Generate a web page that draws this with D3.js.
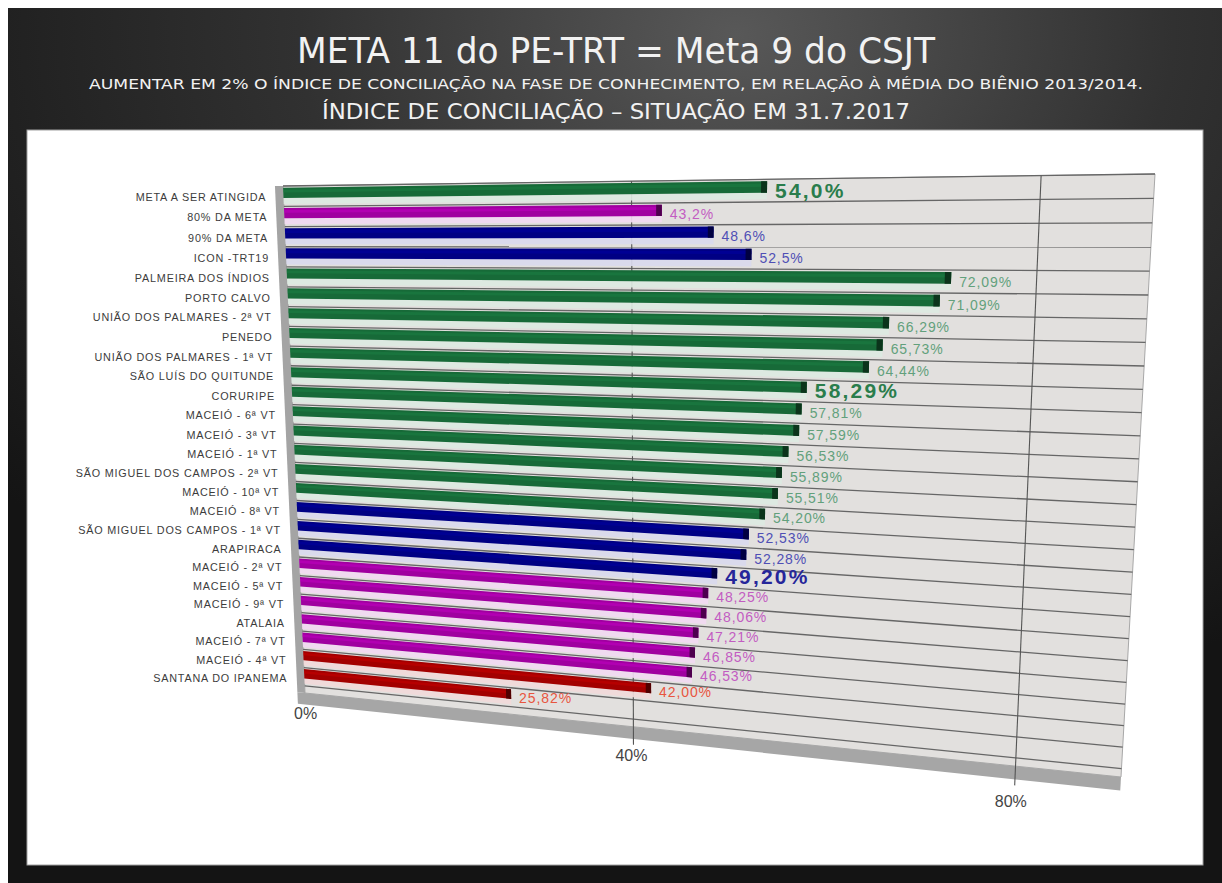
<!DOCTYPE html>
<html>
<head>
<meta charset="utf-8">
<script src="https://cdn.jsdelivr.net/npm/d3@7"></script>
<style>
body { margin: 0; background: #fff; }
svg { display: block; }
</style>
</head>
<body>
<svg id="chart" width="1222" height="883"></svg>
<script>
// dados
var categorias = ["META A SER ATINGIDA", "80% DA META", "90% DA META", "ICON -TRT19", "PALMEIRA DOS ÍNDIOS", "PORTO CALVO",
    "UNIÃO DOS PALMARES - 2ª VT", "PENEDO", "UNIÃO DOS PALMARES - 1ª VT", "SÃO LUÍS DO QUITUNDE", "CORURIPE",
    "MACEIÓ - 6ª VT", "MACEIÓ - 3ª VT", "MACEIÓ - 1ª VT", "SÃO MIGUEL DOS CAMPOS - 2ª VT", "MACEIÓ - 10ª VT",
    "MACEIÓ - 8ª VT", "SÃO MIGUEL DOS CAMPOS - 1ª VT", "ARAPIRACA", "MACEIÓ - 2ª VT", "MACEIÓ - 5ª VT",
    "MACEIÓ - 9ª VT", "ATALAIA", "MACEIÓ - 7ª VT", "MACEIÓ - 4ª VT", "SANTANA DO IPANEMA"];
var valores = [54.0, 43.2, 48.6, 52.5, 72.09, 71.09, 66.29, 65.73, 64.44, 58.29, 57.81, 57.59, 56.53,
    55.89, 55.51, 54.20, 52.53, 52.28, 49.20, 48.25, 48.06, 47.21, 46.85, 46.53, 42.00, 25.82];
var referencias = ["META A SER ATINGIDA", "80% DA META", "90% DA META", "ICON -TRT19"];
var destaques = ["META A SER ATINGIDA", "SÃO LUÍS DO QUITUNDE", "ARAPIRACA"];
var tickValores = [0, 40, 80];
var tickRotulos = ["0%", "40%", "80%"];
var titulo = "META 11 do PE-TRT = Meta 9 do CSJT";
var subtitulo = "AUMENTAR EM 2% O ÍNDICE DE CONCILIAÇÃO NA FASE DE CONHECIMENTO, EM RELAÇÃO À MÉDIA DO BIÊNIO 2013/2014.";
var situacao = "ÍNDICE DE CONCILIAÇÃO – SITUAÇÃO EM 31.7.2017";

// faixas de cor: abaixo de 80% da meta, 80%, 90%, meta
var limites = [valores[1], valores[2], valores[0]];
var coresBarras = ["#a30000", "#a000a0", "#000084", "#176a38"];
var coresRotulos = ["#e8553f", "#c25cc2", "#4f4fb5", "#62a07c"];
var coresDestaque = ["#c03020", "#9a1a9a", "#26269a", "#2a7d4c"];

var svg = d3.select("#chart");
var defs = svg.append("defs");

// fundo do slide
var rg = defs.append("radialGradient").attr("id", "fundo")
    .attr("cx", "60%").attr("cy", "3%").attr("r", "80%");
rg.append("stop").attr("offset", "0%").attr("stop-color", "#585858");
rg.append("stop").attr("offset", "45%").attr("stop-color", "#313131");
rg.append("stop").attr("offset", "100%").attr("stop-color", "#141414");
svg.append("rect").attr("x", 8).attr("y", 8).attr("width", 1214).attr("height", 875).attr("fill", "url(#fundo)");
svg.append("rect").attr("x", 27).attr("y", 130).attr("width", 1176).attr("height", 735)
    .attr("fill", "#fff").attr("stroke", "#a0a0a0");

// titulos
var fonteEstreita = "'Liberation Sans Narrow', 'DejaVu Sans Condensed', 'Liberation Sans', sans-serif";
[[titulo, 63, 35, 638], [subtitulo, 89, 13.5, 1054], [situacao, 119, 22, 588]].forEach(function (t) {
    svg.append("text").attr("x", 616).attr("y", t[1]).attr("text-anchor", "middle")
        .attr("font-family", fonteEstreita).attr("font-size", t[2]).attr("fill", "#f2f2f2")
        .attr("textLength", t[3]).attr("lengthAdjust", "spacingAndGlyphs").text(t[0]);
});

// projecao em perspectiva (quadrado unitario -> quadrilatero da parede)
function perspectiva(q) {
    var x0 = q[0][0], y0 = q[0][1], x1 = q[1][0], y1 = q[1][1];
    var x2 = q[2][0], y2 = q[2][1], x3 = q[3][0], y3 = q[3][1];
    var dx1 = x1 - x2, dx2 = x3 - x2, dx3 = x0 - x1 + x2 - x3;
    var dy1 = y1 - y2, dy2 = y3 - y2, dy3 = y0 - y1 + y2 - y3;
    var det = dx1 * dy2 - dx2 * dy1;
    var g = (dx3 * dy2 - dx2 * dy3) / det;
    var h = (dx1 * dy3 - dx3 * dy1) / det;
    var a = x1 - x0 + g * x1, b = x3 - x0 + h * x3, c = x0;
    var d = y1 - y0 + g * y1, e = y3 - y0 + h * y3, f = y0;
    return function (u, w) {
        var z = g * u + h * w + 1;
        return [(a * u + b * w + c) / z, (d * u + e * w + f) / z];
    };
}
var proj = perspectiva([[283, 186], [1155, 174], [1121, 777], [305, 693]]);

var x = d3.scaleLinear().domain([0, 90]).range([0, 1]);
var y = d3.scaleBand().domain(categorias).range([0, 0.985]);
var bw = y.bandwidth();
var cor = d3.scaleThreshold().domain(limites).range(coresBarras);
var corRotulo = d3.scaleThreshold().domain(limites).range(coresRotulos);
var corDestaque = d3.scaleThreshold().domain(limites).range(coresDestaque);

function P(v, w) { return proj(x(v), w); }
function quad(v0, v1, w0, w1) {
    return [P(v0, w0), P(v1, w0), P(v1, w1), P(v0, w1)].map(function (p) { return p.join(","); }).join(" ");
}

var pt = d3.formatLocale({ decimal: ",", thousands: ".", grouping: [3], currency: ["R$", ""] });
var f1 = pt.format(".1f"), f2 = pt.format(".2f");

var dados = categorias.map(function (c, i) { return { nome: c, valor: valores[i] }; });

var g = svg.append("g");

// parede, lateral e piso
g.append("polygon").attr("points", quad(0, 90, 0, 1)).attr("fill", "#e2e0de").attr("stroke", "#a8a8a8");
g.append("polygon").attr("points", quad(-1, 0, 0, 1)).attr("fill", "#a4a4a4");
g.append("polygon").attr("points", quad(-1, 90, 1, 1.024)).attr("fill", "#a6a6a6");

// linhas de grade das categorias
var linhas = d3.range(categorias.length + 1).map(function (k) { return k * bw; });
g.selectAll("line.grade").data(linhas).enter().append("line").attr("class", "grade")
    .attr("x1", function (w) { return P(0, w)[0]; }).attr("y1", function (w) { return P(0, w)[1]; })
    .attr("x2", function (w) { return P(90, w)[0]; }).attr("y2", function (w) { return P(90, w)[1]; })
    .attr("stroke", "#666").attr("stroke-width", 1.3);

// linhas verticais dos valores
g.selectAll("line.eixo").data(tickValores.slice(1)).enter().append("line").attr("class", "eixo")
    .attr("x1", function (t) { return P(t, 0)[0]; }).attr("y1", function (t) { return P(t, 0)[1]; })
    .attr("x2", function (t) { return P(t, 1.035)[0]; }).attr("y2", function (t) { return P(t, 1.035)[1]; })
    .attr("stroke", "#555").attr("stroke-width", 1.1);

// barras
var barra = g.selectAll("g.barra").data(dados).enter().append("g").attr("class", "barra");
barra.append("polygon")
    .attr("points", function (d) { return quad(0, d.valor, y(d.nome) + 0.58 * bw, y(d.nome) + 0.88 * bw); })
    .attr("fill", function (d) { return d3.interpolateRgb(cor(d.valor), "#fff")(0.85); })
    .attr("opacity", 0.92);
barra.append("polygon")
    .attr("points", function (d) { return quad(0, d.valor, y(d.nome) + 0.08 * bw, y(d.nome) + 0.59 * bw); })
    .attr("fill", function (d) { return cor(d.valor); });
barra.append("polygon")
    .attr("points", function (d) { return quad(0, d.valor, y(d.nome) + 0.18 * bw, y(d.nome) + 0.32 * bw); })
    .attr("fill", function (d) { return d3.color(cor(d.valor)).brighter(0.7); })
    .attr("opacity", 0.4);
barra.append("polygon")
    .attr("points", function (d) { return quad(d.valor - 0.6, d.valor, y(d.nome) + 0.08 * bw, y(d.nome) + 0.59 * bw); })
    .attr("fill", function (d) { return d3.color(cor(d.valor)).darker(2); });

// rotulos de valor
g.selectAll("text.valor").data(dados).enter().append("text").attr("class", "valor")
    .attr("x", function (d) { return P(d.valor, y(d.nome) + 0.35 * bw)[0] + 8; })
    .attr("y", function (d) { return P(d.valor, y(d.nome) + 0.35 * bw)[1] + 5; })
    .attr("dominant-baseline", "middle")
    .attr("font-family", "'Liberation Sans', Arial, sans-serif")
    .attr("font-size", function (d) { return destaques.indexOf(d.nome) >= 0 ? 21 : 14; })
    .attr("font-weight", function (d) { return destaques.indexOf(d.nome) >= 0 ? "bold" : "normal"; })
    .attr("letter-spacing", function (d) { return destaques.indexOf(d.nome) >= 0 ? 2.2 : 0.9; })
    .attr("fill", function (d) { return destaques.indexOf(d.nome) >= 0 ? corDestaque(d.valor) : corRotulo(d.valor); })
    .text(function (d) { return (referencias.indexOf(d.nome) >= 0 ? f1(d.valor) : f2(d.valor)) + "%"; });

// rotulos das categorias
g.selectAll("text.cat").data(dados).enter().append("text").attr("class", "cat")
    .attr("x", function (d) { return P(0, y(d.nome) + 0.4 * bw)[0] - 17; })
    .attr("y", function (d) { return P(0, y(d.nome) + 0.4 * bw)[1] + 4; })
    .attr("text-anchor", "end").attr("dominant-baseline", "middle")
    .attr("font-family", "'Liberation Sans', Arial, sans-serif").attr("font-size", 10.8)
    .attr("letter-spacing", 0.8).attr("fill", "#3c3c3c")
    .text(function (d) { return d.nome; });

// rotulos do eixo de valores
g.selectAll("text.tick").data(tickValores).enter().append("text").attr("class", "tick")
    .attr("x", function (t) { return P(t, 1.03)[0] - t * 0.05; })
    .attr("y", function (t) { return P(t, 1.03)[1] + 12 + t * 0.16; })
    .attr("text-anchor", "middle")
    .attr("font-family", "'Liberation Sans', Arial, sans-serif").attr("font-size", 16)
    .attr("fill", "#444")
    .text(function (t, i) { return tickRotulos[i]; });
</script>
</body>
</html>
